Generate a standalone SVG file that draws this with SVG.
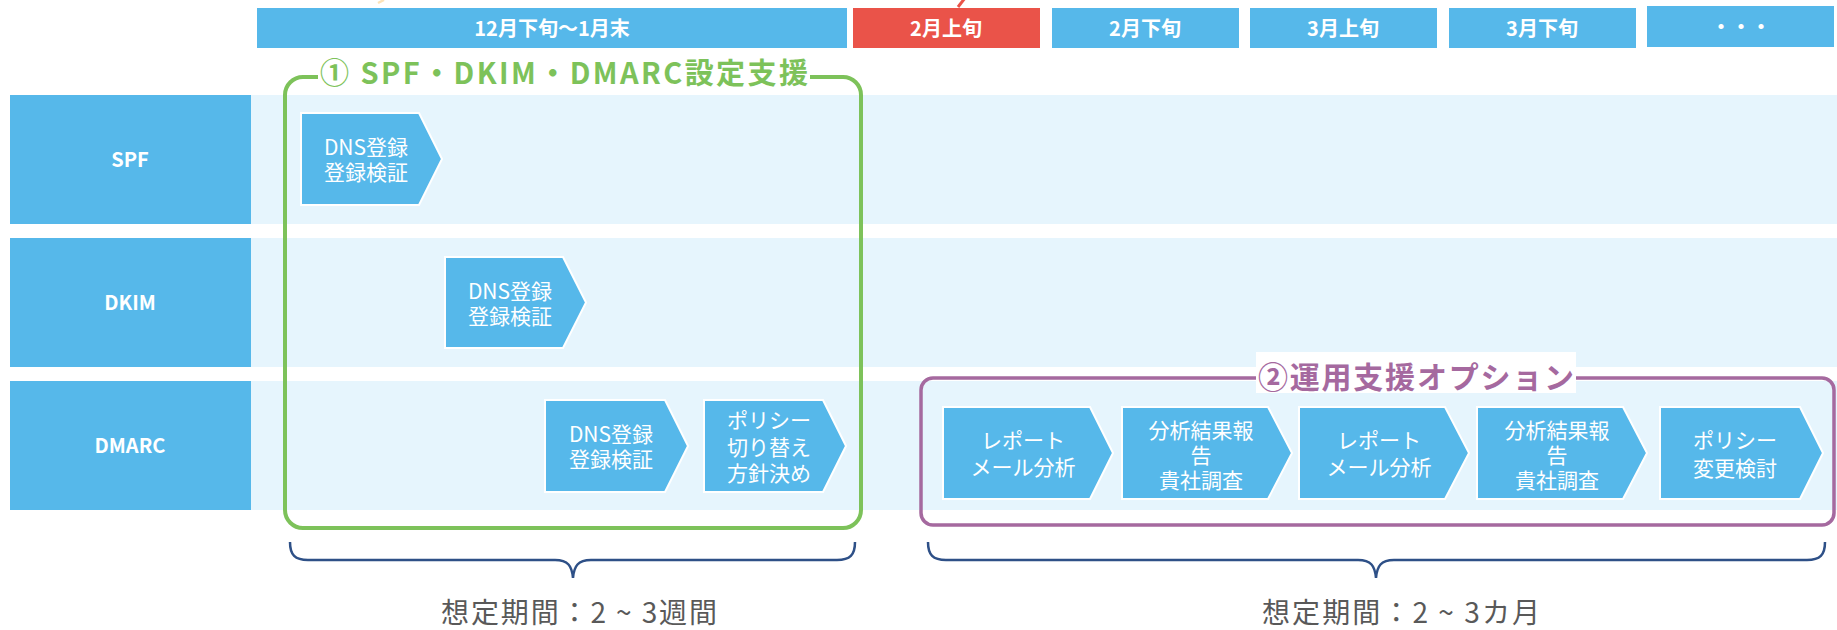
<svg xmlns="http://www.w3.org/2000/svg" width="1837" height="630" viewBox="0 0 1837 630">
<style>
text{font-family:"Noto Sans CJK JP","Noto Sans",sans-serif}
.hdr{fill:#56B8EA}
.hdrt{fill:#fff;font-size:20px;font-weight:bold;text-anchor:middle}
.lane{fill:#E6F5FD}
.lbl{fill:#56B8EA}
.lblt{fill:#fff;font-size:20px;font-weight:bold;text-anchor:middle}
.chev{fill:#56B8EA;stroke:#fff;stroke-width:2}
.ct{fill:#fff;font-size:21px;text-anchor:middle}
.brace{fill:none;stroke:#2E5087;stroke-width:2.5}
.bt{fill:#595959;font-size:28px}
</style>
<rect width="1837" height="630" fill="#fff"/>
<!-- top slivers -->
<line x1="384" y1="0" x2="378" y2="3" stroke="#FCE3B8" stroke-width="2.5"/>
<line x1="965" y1="-2" x2="958" y2="7" stroke="#EA5349" stroke-width="3"/>
<!-- header -->
<g id="header">
<rect class="hdr" x="257" y="8" width="590" height="40"/>
<text class="hdrt" x="552" y="36">12月下旬～1月末</text>
<rect x="853" y="8" width="187" height="40" fill="#EA5349"/>
<text class="hdrt" x="946" y="36">2月上旬</text>
<rect class="hdr" x="1052" y="8" width="187" height="40"/>
<text class="hdrt" x="1145" y="36">2月下旬</text>
<rect class="hdr" x="1250" y="8" width="187" height="40"/>
<text class="hdrt" x="1343" y="36">3月上旬</text>
<rect class="hdr" x="1449" y="8" width="187" height="40"/>
<text class="hdrt" x="1542" y="36">3月下旬</text>
<rect class="hdr" x="1647" y="6" width="187" height="41"/>
<text class="hdrt" x="1741" y="34">・・・</text>
</g>
<!-- lanes -->
<g id="lane-spf">
<rect class="lane" x="251" y="95" width="1586" height="129"/>
<rect class="lbl" x="10" y="95" width="241" height="129"/>
<text class="lblt" x="130" y="167">SPF</text>
</g>
<g id="lane-dkim">
<rect class="lane" x="251" y="238" width="1586" height="129"/>
<rect class="lbl" x="10" y="238" width="241" height="129"/>
<text class="lblt" x="130" y="310">DKIM</text>
</g>
<g id="lane-dmarc">
<rect class="lane" x="251" y="381" width="1586" height="129"/>
<rect class="lbl" x="10" y="381" width="241" height="129"/>
<text class="lblt" x="130" y="453">DMARC</text>
</g>
<!-- group 1 frame -->
<g id="frame1">
<rect x="285" y="77" width="576" height="451" rx="18" fill="none" stroke="#7DC25A" stroke-width="4"/>
<rect x="318" y="58" width="492" height="34" fill="#fff"/>
<text x="320" y="84" font-size="29" font-weight="bold" fill="#7DC25A" textLength="488" lengthAdjust="spacing">① SPF・DKIM・DMARC設定支援</text>
</g>
<!-- group 2 frame -->
<g id="frame2">
<rect x="921" y="378" width="913" height="147" rx="12" fill="none" stroke="#A5699F" stroke-width="3.5"/>
<rect x="1256" y="352" width="320" height="41" fill="#fff"/>
<text x="1416" y="388" font-size="30" font-weight="bold" fill="#A5699F" text-anchor="middle" textLength="316" lengthAdjust="spacing">②運用支援オプション</text>
</g>
<!-- chevrons -->
<g id="spf-dns">
<path class="chev" d="M301,113 H419 L442,159 L419,205 H301 Z"/>
<text class="ct" x="366" y="154.5">DNS登録</text>
<text class="ct" x="366" y="180">登録検証</text>
</g>
<g id="dkim-dns">
<path class="chev" d="M445,257 H563 L586,302.5 L563,348 H445 Z"/>
<text class="ct" x="510" y="298.5">DNS登録</text>
<text class="ct" x="510" y="324">登録検証</text>
</g>
<g id="dmarc-dns">
<path class="chev" d="M545,400 H665 L688,446 L665,492 H545 Z"/>
<text class="ct" x="611" y="441.5">DNS登録</text>
<text class="ct" x="611" y="467">登録検証</text>
</g>
<g id="dmarc-policy">
<path class="chev" d="M704,400 H823 L846,446 L823,492 H704 Z"/>
<text class="ct" x="769" y="428">ポリシー</text>
<text class="ct" x="769" y="455">切り替え</text>
<text class="ct" x="769" y="481">方針決め</text>
</g>
<g id="op-report1">
<path class="chev" d="M943,407 H1090 L1113,453 L1090,499 H943 Z"/>
<text class="ct" x="1023" y="448">レポート</text>
<text class="ct" x="1023" y="475">メール分析</text>
</g>
<g id="op-result1">
<path class="chev" d="M1122,407 H1268 L1292,453 L1268,499 H1122 Z"/>
<text class="ct" x="1201" y="438">分析結果報</text>
<text class="ct" x="1201" y="463">告</text>
<text class="ct" x="1201" y="488">貴社調査</text>
</g>
<g id="op-report2">
<path class="chev" d="M1299,407 H1445 L1469,453 L1445,499 H1299 Z"/>
<text class="ct" x="1379" y="448">レポート</text>
<text class="ct" x="1379" y="475">メール分析</text>
</g>
<g id="op-result2">
<path class="chev" d="M1477,407 H1623 L1647,453 L1623,499 H1477 Z"/>
<text class="ct" x="1557" y="438">分析結果報</text>
<text class="ct" x="1557" y="463">告</text>
<text class="ct" x="1557" y="488">貴社調査</text>
</g>
<g id="op-policy">
<path class="chev" d="M1660,407 H1800 L1823,453 L1800,499 H1660 Z"/>
<text class="ct" x="1735" y="448">ポリシー</text>
<text class="ct" x="1735" y="476">変更検討</text>
</g>
<!-- braces -->
<g id="connectors">
<path class="brace" d="M290,542 C290,555 295,560 308,560 H555 C568,560 572,566 573,578 C574,566 578,560 591,560 H837 C850,560 855,555 855,542"/>
<path class="brace" d="M928,542 C928,555 933,560 946,560 H1358 C1371,560 1375,566 1376,578 C1377,566 1381,560 1394,560 H1807 C1820,560 1825,555 1825,542"/>
</g>
<g id="period1"><text class="bt" x="441" y="623" textLength="276" lengthAdjust="spacing">想定期間：2 ~ 3週間</text></g>
<g id="period2"><text class="bt" x="1262" y="623" textLength="278" lengthAdjust="spacing">想定期間：2 ~ 3カ月</text></g>
</svg>
